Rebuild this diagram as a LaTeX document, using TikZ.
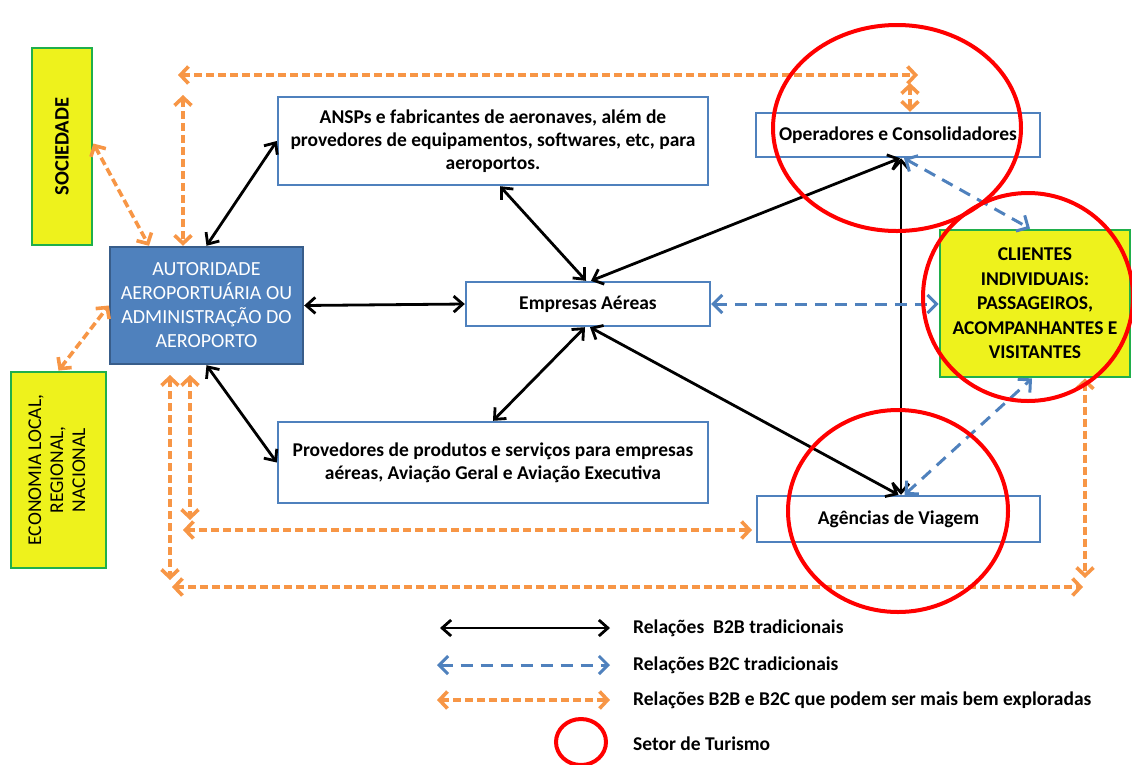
\documentclass[tikz,border=0pt]{standalone}
\usepackage{fontspec}
\usepackage{graphicx}
\setmainfont{Carlito}
\usetikzlibrary{arrows.meta,calc}

\definecolor{boxblue}{HTML}{4F81BD}
\definecolor{deepblue}{HTML}{385D8A}
\definecolor{acid}{HTML}{EEF21C}
\definecolor{leaf}{HTML}{1FAF4B}
\definecolor{peach}{HTML}{F79646}
\definecolor{ringred}{HTML}{FF0000}

\tikzset{
  wbox/.style={draw=boxblue, line width=2.4, fill=white, inner sep=0pt,
    align=center, font=\bfseries\fontsize{19.5}{23}\selectfont},
  ybox/.style={draw=leaf, line width=2.8, fill=acid, inner sep=0pt,
    align=center, font=\fontsize{19.5}{23}\selectfont},
  abox/.style={draw=deepblue, line width=2.4, fill=boxblue, inner sep=0pt,
    align=center, text=white, font=\fontsize{20}{24}\selectfont},
  b2b/.style={black, line width=2.8,
    {Straight Barb[length=9,width=16,line width=2.8]}-{Straight Barb[length=9,width=16,line width=2.8]}},
  b2c/.style={boxblue, line width=3, dash pattern=on 12 off 8,
    {Straight Barb[length=9,width=18,line width=3]}-{Straight Barb[length=9,width=18,line width=3]}},
  more/.style={peach, line width=3.6, dash pattern=on 8 off 4,
    {Straight Barb[length=8,width=17,line width=3.6]}-{Straight Barb[length=8,width=17,line width=3.6]}},
  ring/.style={draw=ringred, line width=4},
  legtext/.style={anchor=west, inner sep=0pt, font=\bfseries\fontsize{19.5}{22}\selectfont}
}

\begin{document}
\begin{tikzpicture}[x=1pt,y=-1pt]
\useasboundingbox (0,0) rectangle (1132,764);

% outer actors
\node[ybox, minimum width=60, minimum height=197] (soc) at (62,146.5)
  {\rotatebox{90}{\bfseries\fontsize{20.5}{23}\selectfont SOCIEDADE}};
\node[ybox, minimum width=95, minimum height=196] (eco) at (58.5,470)
  {\rotatebox{90}{\begin{tabular}{@{}c@{}}ECONOMIA LOCAL,\\[-1pt] REGIONAL,\\[-1pt] NACIONAL\end{tabular}}};

% airport authority
\node[abox, minimum width=193, minimum height=117] (aut) at (206.5,305.5)
  {AUTORIDADE\\ AEROPORTUÁRIA OU\\ ADMINISTRAÇÃO DO\\ AEROPORTO};

% suppliers and airlines
\node[wbox, minimum width=430, minimum height=88] (ansp) at (493,141)
  {ANSPs e fabricantes de aeronaves, além de\\ provedores de equipamentos, softwares, etc, para\\ aeroportos.};
\node[wbox, minimum width=244, minimum height=44] (emp) at (588,304)
  {Empresas Aéreas};
\node[wbox, minimum width=430, minimum height=81] (prov) at (493,462.5)
  {Provedores de produtos e serviços para empresas\\ aéreas, Aviação Geral e Aviação Executiva};

% tourism side
\node[wbox, minimum width=284, minimum height=44] (oper) at (898,135)
  {Operadores e Consolidadores};
\node[wbox, minimum width=283, minimum height=46] (agen) at (898.5,519)
  {Agências de Viagem};
\node[ybox, minimum width=190, minimum height=147, font=\bfseries\fontsize{19.5}{24.5}\selectfont] (cli) at (1035,303.5)
  {CLIENTES\\ INDIVIDUAIS:\\ PASSAGEIROS,\\ ACOMPANHANTES E\\ VISITANTES};

% free ends of the dashed frame
\coordinate (topL) at (178,75);
\coordinate (topR) at (918,75);
\coordinate (topV) at (183,95);
\coordinate (opV) at (910,83);
\coordinate (inTop) at (190,375);
\coordinate (inBot) at (190,520);
\coordinate (inL) at (183,530);
\coordinate (inR) at (752,530);
\coordinate (outTop) at (170,375);
\coordinate (outBot) at (170,580);
\coordinate (botL) at (172,587);
\coordinate (botR) at (1083,587);
\coordinate (rBot) at (1085,578);

% traditional B2B relations
\draw[b2b] (aut.north) -- (ansp.west);
\draw[b2b] (aut.east) -- (emp.west);
\draw[b2b] (aut.south) -- (prov.west);
\draw[b2b] ([xshift=7]ansp.south) -- ([xshift=-2]emp.north);
\draw[b2b] ([xshift=3]emp.north) -- ([xshift=2]oper.south);
\draw[b2b] ([xshift=-3]emp.south) -- (prov.north);
\draw[b2b] ([xshift=2]emp.south) -- (agen.north);
\draw[b2b] ([xshift=3]oper.south) -- ([xshift=2.5]agen.north);

% traditional B2C relations
\draw[b2c] (emp.east) -- (emp.east -| cli.west);
\draw[b2c] ([xshift=6]oper.south) -- ([xshift=-5]cli.north);
\draw[b2c] ([xshift=6]agen.north) -- ([xshift=-3]cli.south);

% relations that can be better explored
\draw[more] (topL) -- (topR);
\draw[more] (topV) -- ([xshift=-23.5]aut.north);
\draw[more] (opV) -- ([xshift=12]oper.north);
\draw[more] ([yshift=3]soc.east) -- ([xshift=-57.5]aut.north);
\draw[more] (eco.north) -- (aut.west);
\draw[more] (inTop) -- (inBot);
\draw[more] (inL) -- (inR);
\draw[more] (outTop) -- (outBot);
\draw[more] (botL) -- (botR);
\draw[more] ([xshift=50]cli.south) -- (rBot);

% tourism sector rings
\draw[ring] (897,128) ellipse [x radius=124, y radius=103];
\draw[ring] (1028,297) ellipse [x radius=105, y radius=104];
\draw[ring] (898,511) ellipse [x radius=110, y radius=101];

% legend
\coordinate (k1a) at (440,628); \coordinate (k1b) at (610,628);
\coordinate (k2a) at (437,665); \coordinate (k2b) at (610,665);
\coordinate (k3a) at (437,700); \coordinate (k3b) at (610,700);
\draw[b2b] (k1a) -- (k1b);
\draw[b2c] (k2a) -- (k2b);
\draw[more] (k3a) -- (k3b);
\draw[ring] (581,742) ellipse [x radius=25, y radius=23];
\node[legtext] (t1) at (633,628) {Relações\ \ B2B tradicionais};
\node[legtext] (t2) at (633,665) {Relações B2C tradicionais};
\node[legtext] (t3) at (633,700) {Relações B2B e B2C que podem ser mais bem exploradas};
\node[legtext] (t4) at (633,744) {Setor de Turismo};
\end{tikzpicture}
\end{document}
